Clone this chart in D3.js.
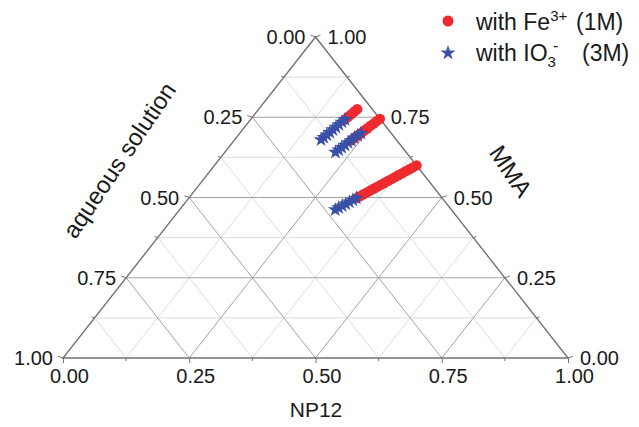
<!DOCTYPE html>
<html>
<head>
<meta charset="utf-8">
<script src="https://cdn.jsdelivr.net/npm/d3@7"></script>
<style>
  body { margin: 0; background: #fff; }
  svg { font-family: "Liberation Sans", Arial, sans-serif; }
</style>
</head>
<body>
<svg id="chart" width="639" height="427"></svg>
<script>
// mass fractions (aqueous = 1 - NP12 - MMA)
// with Fe3+ (1M), three dilution runs
const feNP12 = [
  0.195, 0.193, 0.191, 0.189, 0.187,
  0.255, 0.252, 0.250, 0.247, 0.245, 0.242, 0.240, 0.237, 0.234, 0.232,
  0.400, 0.396, 0.392, 0.388, 0.384, 0.380, 0.376, 0.372, 0.368,
  0.364, 0.360, 0.356, 0.352, 0.348, 0.344, 0.340, 0.336, 0.332,
];
const feMMA = [
  0.775, 0.767, 0.759, 0.751, 0.743,
  0.745, 0.738, 0.730, 0.723, 0.715, 0.708, 0.700, 0.693, 0.686, 0.678,
  0.600, 0.594, 0.588, 0.582, 0.576, 0.570, 0.564, 0.558, 0.552,
  0.546, 0.540, 0.534, 0.528, 0.522, 0.516, 0.510, 0.504, 0.498,
];
// with IO3- (3M)
const ioNP12 = [
  0.187, 0.185, 0.183, 0.181, 0.179, 0.177, 0.175, 0.173, 0.171,
  0.240, 0.237, 0.234, 0.232, 0.229, 0.227, 0.224, 0.222, 0.219,
  0.332, 0.328, 0.324, 0.320, 0.316, 0.312, 0.308,
];
const ioMMA = [
  0.743, 0.735, 0.727, 0.719, 0.711, 0.703, 0.695, 0.687, 0.680,
  0.700, 0.693, 0.686, 0.678, 0.671, 0.663, 0.656, 0.648, 0.641,
  0.498, 0.492, 0.486, 0.480, 0.474, 0.468, 0.462,
];
const majorTicks = [0, 0.25, 0.5, 0.75, 1];
const minorTicks = [0.125, 0.375, 0.625, 0.875];
const tickLabels = ["0.00", "0.25", "0.50", "0.75", "1.00"];

const svg = d3.select("#chart");

// triangle is drawn in a 0..1 cartesian frame, then scaled
const xScale = d3.scaleLinear().domain([0, 1]).range([63, 568]);
const yScale = d3.scaleLinear().domain([0, 1]).range([358, 37]);

// np = NP12 (bottom-right vertex), mma = MMA (top vertex)
const px = (np, mma) => xScale(np + mma / 2);
const py = (np, mma) => yScale(mma);

const gridColor = { major: "#a3a3a3", minor: "#dcdcdc" };

// gridlines
function gridLines(vals, cls) {
  const g = svg.append("g").attr("stroke", gridColor[cls]).attr("stroke-width", 1);
  vals.forEach((v) => {
    if (v === 0 || v === 1) return;
    // constant MMA (horizontal)
    g.append("line")
      .attr("x1", px(0, v)).attr("y1", py(0, v))
      .attr("x2", px(1 - v, v)).attr("y2", py(1 - v, v));
    // constant NP12
    g.append("line")
      .attr("x1", px(v, 0)).attr("y1", py(v, 0))
      .attr("x2", px(v, 1 - v)).attr("y2", py(v, 1 - v));
    // constant aqueous
    g.append("line")
      .attr("x1", px(1 - v, 0)).attr("y1", py(1 - v, 0))
      .attr("x2", px(0, 1 - v)).attr("y2", py(0, 1 - v));
  });
}
gridLines(minorTicks, "minor");
gridLines(majorTicks, "major");

// triangle frame
svg.append("path")
  .attr("d", d3.line()([[px(0, 0), py(0, 0)], [px(1, 0), py(1, 0)], [px(0, 1), py(0, 1)]]) + "Z")
  .attr("fill", "none")
  .attr("stroke", "#737373")
  .attr("stroke-width", 1.4);

// bottom axis (NP12)
const xAxis = d3.axisBottom(d3.scaleLinear().domain([0, 1]).range([63, 568]))
  .tickValues(majorTicks)
  .tickSize(5)
  .tickPadding(6)
  .tickFormat((d, i) => tickLabels[i]);
const gx = svg.append("g").attr("transform", "translate(0,358)").call(xAxis);
gx.select(".domain").remove();
gx.selectAll(".tick line").attr("stroke", "#737373");
gx.selectAll(".tick text")
  .attr("font-size", 20)
  .attr("font-family", "Liberation Sans, Arial, sans-serif")
  .attr("fill", "#1a1a1a")
  .attr("dx", 6);
svg.append("g").selectAll("line").data(minorTicks).join("line")
  .attr("x1", (d) => xScale(d)).attr("x2", (d) => xScale(d))
  .attr("y1", 358).attr("y2", 361)
  .attr("stroke", "#737373");

// slanted axes: ticks and labels
const tickG = svg.append("g").attr("stroke", "#737373").attr("stroke-width", 1);
const labelG = svg.append("g").attr("font-size", 20).attr("fill", "#1a1a1a");

// left axis (aqueous solution): 0 at top, 1 at bottom-left
majorTicks.concat(minorTicks).forEach((a) => {
  const x = px(0, 1 - a), y = py(0, 1 - a);
  const len = majorTicks.includes(a) ? 5 : 3;
  tickG.append("line").attr("x1", x).attr("y1", y)
    .attr("x2", x - len).attr("y2", y - len * 0.35);
});
majorTicks.forEach((a, i) => {
  labelG.append("text")
    .attr("x", px(0, 1 - a) - 10)
    .attr("y", py(0, 1 - a))
    .attr("dy", "0.36em")
    .attr("text-anchor", "end")
    .text(tickLabels[i]);
});

// right axis (MMA): 0 at bottom-right, 1 at top
majorTicks.concat(minorTicks).forEach((m) => {
  const x = px(1 - m, m), y = py(1 - m, m);
  const len = majorTicks.includes(m) ? 5 : 3;
  tickG.append("line").attr("x1", x).attr("y1", y)
    .attr("x2", x + len).attr("y2", y - len * 0.35);
});
majorTicks.forEach((m, i) => {
  labelG.append("text")
    .attr("x", px(1 - m, m) + 12)
    .attr("y", py(1 - m, m))
    .attr("dy", "0.36em")
    .attr("text-anchor", "start")
    .text(tickLabels[i]);
});

// axis titles
const titleG = svg.append("g").attr("font-size", 24).attr("fill", "#1a1a1a");
titleG.append("text")
  .attr("transform", "translate(316,409)")
  .attr("font-size", 21)
  .attr("text-anchor", "middle")
  .attr("dy", "0.36em")
  .text("NP12");
titleG.append("text")
  .attr("transform", "translate(119,160) rotate(-56)")
  .attr("text-anchor", "middle")
  .attr("dy", "0.36em")
  .text("aqueous solution");
titleG.append("text")
  .attr("transform", "translate(511,171) rotate(56)")
  .attr("text-anchor", "middle")
  .attr("dy", "0.36em")
  .text("MMA");

// data
const red = "#ee2a2f";
const blue = "#3a50a6";
const fe = feNP12.map((d, i) => ({ np: d, mma: feMMA[i] }));
const io = ioNP12.map((d, i) => ({ np: d, mma: ioMMA[i] }));

svg.append("g").selectAll("circle").data(fe).join("circle")
  .attr("cx", (d) => px(d.np, d.mma))
  .attr("cy", (d) => py(d.np, d.mma))
  .attr("r", 5.2)
  .attr("fill", red);

const star = d3.symbol().type(d3.symbolStar).size(68);
svg.append("g").selectAll("path").data(io).join("path")
  .attr("d", star)
  .attr("transform", (d) => `translate(${px(d.np, d.mma)},${py(d.np, d.mma)})`)
  .attr("fill", blue);

// legend
const legend = svg.append("g").attr("font-size", 23).attr("fill", "#1a1a1a");
legend.append("circle").attr("cx", 448).attr("cy", 21).attr("r", 5.5).attr("fill", red);
const t1 = legend.append("text").attr("x", 476).attr("y", 30);
t1.append("tspan").text("with Fe");
t1.append("tspan").attr("font-size", 15).attr("dy", -9).text("3+");
t1.append("tspan").attr("x", 576).attr("dy", 9).text("(1M)");

legend.append("path").attr("d", d3.symbol().type(d3.symbolStar).size(70)())
  .attr("transform", "translate(448,53)").attr("fill", blue);
const t2 = legend.append("text").attr("x", 476).attr("y", 61);
t2.append("tspan").text("with IO");
t2.append("tspan").attr("font-size", 15).attr("dy", 6).text("3");
t2.append("tspan").attr("font-size", 16).attr("dy", -16).attr("dx", -3).text("-");
t2.append("tspan").attr("x", 582).attr("dy", 10).text("(3M)");
</script>
</body>
</html>
